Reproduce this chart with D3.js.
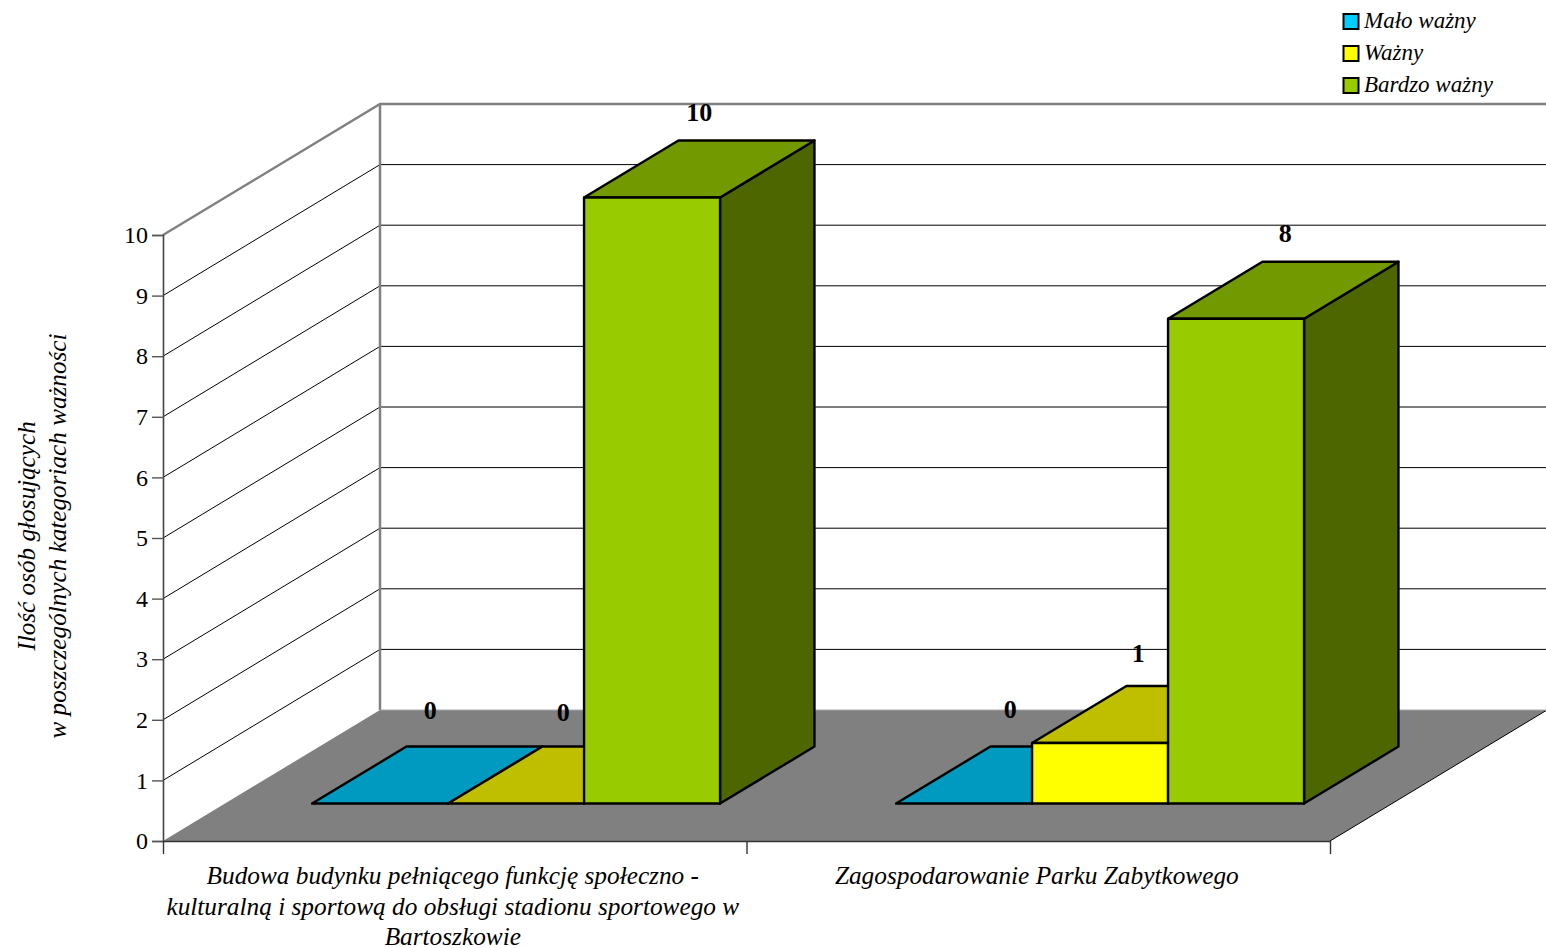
<!DOCTYPE html>
<html><head><meta charset="utf-8">
<script src="https://cdn.jsdelivr.net/npm/d3@7/dist/d3.min.js"></script>
<style>
html,body{margin:0;padding:0;background:#fff}
svg{display:block}
text{font-family:"Liberation Serif","Times New Roman",serif;fill:#000}
</style></head><body>
<svg id="c" width="1546" height="948"></svg>
<script>
const categories = [
  ["Budowa budynku pełniącego funkcję społeczno -","kulturalną i sportową do obsługi stadionu sportowego w","Bartoszkowie"],
  ["Zagospodarowanie Parku Zabytkowego"]
];
const seriesNames = ["Mało ważny","Ważny","Bardzo ważny"];
const maloWazny = [0,0];
const wazny = [0,1];
const bardzoWazny = [10,8];
const seriesValues = [maloWazny,wazny,bardzoWazny];
const seriesColors = ["#00CCFF","#FFFF00","#99CC00"];
const yTicks = [0,1,2,3,4,5,6,7,8,9,10];
const axisTitle = ["Ilość osób głosujących","w poszczególnych kategoriach ważności"];

const svg = d3.select("#c");
const y = d3.scaleLinear().domain([0,10]).range([841,235]);
const xGroup = d3.scaleBand().domain([0,1]).range([163,1331]);
const xEdge = d3.scaleLinear().domain([0,2]).range([163,1330]);
const xSeries = d3.scaleBand().domain([0,1,2]).range([87,495]);
const depthX = 217, depthY = 131;
const P = (x,v,z)=>[x+z*depthX, y(v)-z*depthY];
const poly = pts=>"M"+pts.map(p=>p.join(",")).join("L")+"Z";
const xRight = 1330, xLeft = 163;

// floor
svg.append("path").attr("d",poly([P(xLeft,0,0),P(xLeft,0,1),P(xRight,0,1),P(xRight,0,0)]))
  .attr("fill","#808080");
svg.append("path").attr("d","M"+P(xRight,0,0).join(",")+"L"+P(xRight,0,1).join(","))
  .attr("stroke","#000").attr("stroke-width",1).attr("fill","none");

// gridlines on the walls
yTicks.filter(d=>d>0&&d<10).forEach(t=>{
  svg.append("path").attr("d","M"+[P(xLeft,t,0),P(xLeft,t,1),P(xRight,t,1)].map(p=>p.join(",")).join("L"))
    .attr("fill","none").attr("stroke","#000").attr("stroke-width",1);
});
// wall frame
svg.append("path").attr("d","M"+[P(xLeft,10,0),P(xLeft,10,1),P(xRight,10,1)].map(p=>p.join(",")).join("L"))
  .attr("fill","none").attr("stroke","#808080").attr("stroke-width",2.4);
svg.append("path").attr("d","M"+[P(xLeft,10,1),P(xLeft,0,1)].map(p=>p.join(",")).join("L"))
  .attr("fill","none").attr("stroke","#808080").attr("stroke-width",2.5);
svg.append("path").attr("d","M"+[P(xLeft,0,1),P(xRight,0,1)].map(p=>p.join(",")).join("L"))
  .attr("fill","none").attr("stroke","#a8a8a8").attr("stroke-width",1);

// y axis
const gy = svg.append("g").attr("transform",`translate(${xLeft},0)`)
  .call(d3.axisLeft(y).tickValues(yTicks).tickFormat(d3.format("d")).tickSize(11).tickPadding(4));
gy.selectAll("text").style("font-size","24px").style("font-family",'"Liberation Serif",serif').attr("fill","#000");
gy.selectAll("line").attr("stroke","#555").attr("stroke-width",1.4);
gy.selectAll("path").attr("stroke","#444").attr("stroke-width",1.6);

// x axis
const gx = svg.append("g").attr("transform","translate(0,841)")
  .call(d3.axisBottom(xEdge).tickValues([0,1,2]).tickFormat("").tickSize(13).tickSizeOuter(0));
gx.selectAll("path,line").attr("stroke","#333").attr("stroke-width",1.4);

// bars
const z0 = 0.286, z1 = 0.721, zMid = (z0+z1)/2;
const bw = xSeries.bandwidth();
const shade = (c,k)=>{const r=d3.rgb(c);return d3.rgb(r.r*k,r.g*k,r.b*k).formatHex();};
categories.forEach((cat,g)=>{
  seriesValues.forEach((vals,s)=>{
    const v = vals[g];
    const xa = xGroup(g)+xSeries(s), xb = xa+bw;
    const b = svg.append("g").attr("stroke","#000").attr("stroke-width",2.4).attr("stroke-linejoin","round");
    if(v>0) b.append("path").attr("d",poly([P(xb,0,z0),P(xb,0,z1),P(xb,v,z1),P(xb,v,z0)])).attr("fill",shade(seriesColors[s],0.5));
    b.append("path").attr("d",poly([P(xa,v,z0),P(xa,v,z1),P(xb,v,z1),P(xb,v,z0)])).attr("fill",shade(seriesColors[s],0.75));
    if(v>0) b.append("path").attr("d",poly([P(xa,0,z0),P(xb,0,z0),P(xb,v,z0),P(xa,v,z0)])).attr("fill",seriesColors[s]);
  });
});

// value labels (small hand offsets per label, by group then series)
const labelNudgeX = [[3,0,0],[-1,-9,2]];
const labelNudgeY = [[-9,-7,-1],[-10,-5,-1]];
categories.forEach((cat,g)=>{
  seriesValues.forEach((vals,s)=>{
    const v = vals[g];
    const xa = xGroup(g)+xSeries(s)+bw/2;
    const px = P(xa,v,zMid)[0], py = P(xa,v,z1)[1];
    svg.append("text").attr("x",px+labelNudgeX[g][s]).attr("y",py-19+labelNudgeY[g][s])
      .attr("text-anchor","middle").style("font-size","26px").style("font-weight","bold").text(v);
  });
});

// category labels
categories.forEach((lines,g)=>{
  const t = svg.append("text").attr("text-anchor","middle").style("font-size","25.3px").style("font-style","italic");
  lines.forEach((l,i)=>t.append("tspan").attr("x",xGroup(g)+xGroup.bandwidth()/2-2.2).attr("y",884+i*30.7).text(l));
});

// axis title
axisTitle.forEach((l,i)=>{
  svg.append("text").attr("transform",`translate(${35+i*31},536) rotate(-90)`)
    .attr("text-anchor","middle").style("font-size","25.2px").style("font-style","italic").text(l);
});

// legend
const ly = d3.scalePoint().domain(seriesNames).range([21,85]);
seriesNames.forEach((n,i)=>{
  svg.append("rect").attr("x",1343.5).attr("y",ly(n)-7).attr("width",15).attr("height",15)
    .attr("fill",seriesColors[i]).attr("stroke","#000").attr("stroke-width",2);
  svg.append("text").attr("x",1364).attr("y",ly(n)+7).style("font-size","23px").style("font-style","italic").text(n);
});
</script></body></html>
